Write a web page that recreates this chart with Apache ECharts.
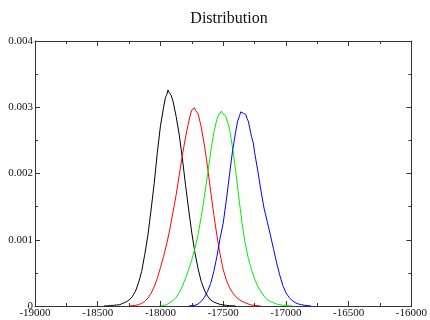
<!DOCTYPE html>
<html>
<head>
<meta charset="utf-8">
<script src="https://cdn.jsdelivr.net/npm/echarts@6/dist/echarts.min.js"></script>
<style>
  html, body { margin: 0; padding: 0; background: #fff; }
  #chart { width: 430px; height: 320px; }
</style>
</head>
<body>
<div id="chart"></div>
<script>
const xTicks = [-19000, -18500, -18000, -17500, -17000, -16500, -16000];
const yTicks = [0, 0.001, 0.002, 0.003, 0.004];

const blackX = [-18450, -18425, -18400, -18375, -18350, -18325, -18300, -18275, -18250, -18225, -18200, -18175, -18150, -18125, -18100, -18075, -18050, -18025, -18000, -17975, -17960, -17950, -17940, -17930, -17925, -17915, -17900, -17875, -17850, -17825, -17800, -17775, -17750, -17725, -17700, -17675, -17650, -17625, -17600, -17575, -17550, -17525, -17500, -17475, -17450, -17400];
const blackY = [0, 0.000002, 0.000005, 0.00001, 0.000015, 0.00002, 0.00004, 0.00006, 0.00009, 0.00014, 0.00022, 0.00035, 0.00052, 0.00078, 0.00107, 0.00145, 0.00185, 0.00232, 0.00272, 0.003, 0.00315, 0.00319, 0.00326, 0.00322, 0.00324, 0.00318, 0.00309, 0.00286, 0.00258, 0.00222, 0.00182, 0.00145, 0.0011, 0.0008, 0.00056, 0.00037, 0.00024, 0.00015, 0.00009, 0.00006, 0.00004, 0.000025, 0.000015, 0.00001, 0.000005, 0];

const redX = [-18250, -18200, -18175, -18150, -18125, -18100, -18075, -18050, -18025, -18000, -17975, -17950, -17925, -17900, -17875, -17850, -17825, -17800, -17775, -17760, -17750, -17740, -17730, -17720, -17710, -17700, -17675, -17650, -17625, -17600, -17575, -17550, -17525, -17500, -17475, -17450, -17425, -17400, -17375, -17350, -17325, -17300, -17275, -17250, -17200];
const redY = [0, 0.00001, 0.00002, 0.00004, 0.00007, 0.00012, 0.00019, 0.00029, 0.00042, 0.00058, 0.00075, 0.00094, 0.00116, 0.00142, 0.00168, 0.00198, 0.00228, 0.00255, 0.00278, 0.0029, 0.00296, 0.00294, 0.00299, 0.00295, 0.00297, 0.0029, 0.0027, 0.00243, 0.0021, 0.00173, 0.00138, 0.00106, 0.00078, 0.00055, 0.00039, 0.00028, 0.0002, 0.00014, 0.0001, 0.00007, 0.00005, 0.00003, 0.000015, 0.000008, 0];

const greenX = [-18000, -17950, -17925, -17900, -17875, -17850, -17825, -17800, -17775, -17750, -17725, -17700, -17675, -17650, -17625, -17600, -17575, -17550, -17535, -17525, -17515, -17505, -17495, -17485, -17475, -17450, -17425, -17400, -17375, -17350, -17325, -17300, -17275, -17250, -17225, -17200, -17175, -17150, -17125, -17100, -17075, -17050, -17025, -17000, -16950];
const greenY = [0, 0.00002, 0.00005, 0.00008, 0.00013, 0.0002, 0.0003, 0.00042, 0.00055, 0.0007, 0.00087, 0.00108, 0.00135, 0.00165, 0.00198, 0.00232, 0.00262, 0.00282, 0.00289, 0.00287, 0.00294, 0.0029, 0.00293, 0.00288, 0.00284, 0.00268, 0.00238, 0.00203, 0.00163, 0.00125, 0.00095, 0.00072, 0.00055, 0.00041, 0.0003, 0.00022, 0.00015, 0.0001, 0.00007, 0.00005, 0.00003, 0.00002, 0.00001, 0.000005, 0];

const blueX = [-17775, -17725, -17700, -17675, -17650, -17625, -17600, -17575, -17550, -17525, -17500, -17475, -17450, -17425, -17400, -17385, -17370, -17360, -17350, -17340, -17330, -17320, -17310, -17300, -17290, -17280, -17275, -17270, -17260, -17250, -17225, -17200, -17175, -17150, -17125, -17100, -17075, -17050, -17025, -17000, -16975, -16950, -16925, -16900, -16875, -16850, -16800];
const blueY = [0, 0.00001, 0.00003, 0.00007, 0.00013, 0.00022, 0.00034, 0.00052, 0.00075, 0.00102, 0.00125, 0.0016, 0.00198, 0.00235, 0.00264, 0.00279, 0.00287, 0.00293, 0.00296, 0.00291, 0.00293, 0.00289, 0.00283, 0.00279, 0.0027, 0.00261, 0.00256, 0.00259, 0.00246, 0.00232, 0.00205, 0.00175, 0.00148, 0.00128, 0.00108, 0.00087, 0.00066, 0.00047, 0.00031, 0.0002, 0.00013, 0.00008, 0.00005, 0.00003, 0.00002, 0.00001, 0];

const curves = [
  { name: 'black', color: '#000000', x: blackX, y: blackY },
  { name: 'red', color: '#ff0000', x: redX, y: redY },
  { name: 'green', color: '#00ee00', x: greenX, y: greenY },
  { name: 'blue', color: '#0000ff', x: blueX, y: blueY },
];

const font = '"Liberation Serif", "DejaVu Serif", serif';
const axisColor = '#333';

function axisDef(position, showLabel, ticks, interval) {
  return {
    type: 'value',
    position,
    min: ticks[0],
    max: ticks[ticks.length - 1],
    interval,
    axisLine: { show: true, onZero: false, lineStyle: { color: axisColor, width: 1 } },
    axisTick: { show: true, inside: true, length: 5, lineStyle: { color: axisColor } },
    minorTick: { show: true, splitNumber: 2, length: 3, lineStyle: { color: axisColor } },
    splitLine: { show: false },
    axisLabel: {
      show: showLabel,
      color: '#111',
      fontFamily: font,
      fontSize: 11,
      margin: 2,
      formatter: (v) => String(parseFloat(v.toPrecision(6))),
    },
  };
}

const chart = echarts.init(document.getElementById('chart'), null, { renderer: 'canvas' });
chart.setOption({
  animation: false,
  backgroundColor: '#fff',
  title: {
    text: 'Distribution',
    left: 224,
    textAlign: 'center',
    top: 6,
    textStyle: { fontFamily: font, fontSize: 16, fontWeight: 'normal', color: '#111' },
  },
  grid: { left: 35, right: 16, top: 41, bottom: 14, containLabel: false },
  xAxis: [axisDef('bottom', true, xTicks, 500), axisDef('top', false, xTicks, 500)],
  yAxis: [axisDef('left', true, yTicks, 0.001), axisDef('right', false, yTicks, 0.001)],
  series: curves.map((c) => ({
    name: c.name,
    type: 'line',
    xAxisIndex: 0,
    yAxisIndex: 0,
    showSymbol: false,
    symbol: 'none',
    data: c.x.map((v, i) => [v, c.y[i]]),
    lineStyle: { color: c.color, width: 1 },
    itemStyle: { color: c.color },
  })),
});
</script>
</body>
</html>
